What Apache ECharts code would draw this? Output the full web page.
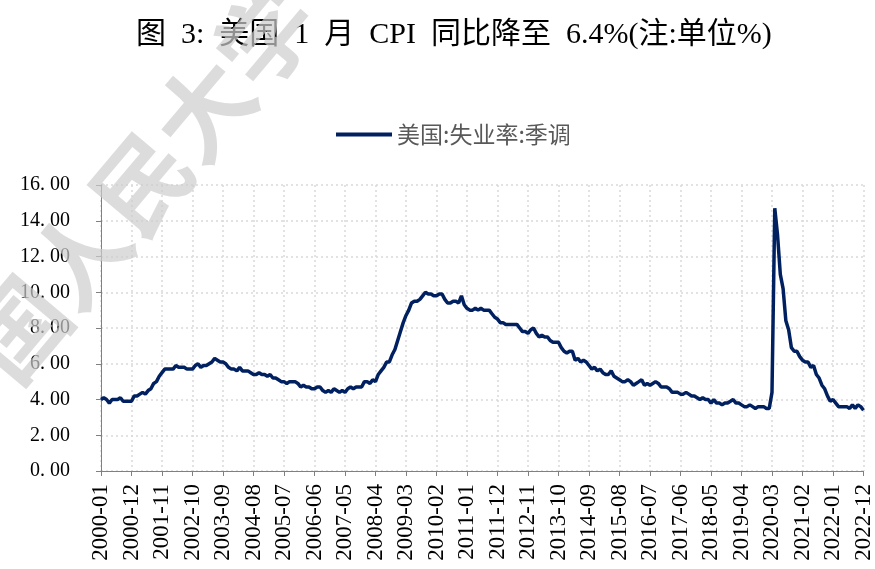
<!DOCTYPE html>
<html>
<head>
<meta charset="utf-8">
<script src="https://cdn.jsdelivr.net/npm/echarts@6/dist/echarts.min.js"></script>
<style>
  html, body { margin: 0; padding: 0; background: #fff; }
  #chart { width: 875px; height: 569px; }
</style>
</head>
<body>
<div id="chart"></div>
<script>
// 美国失业率(季调), 月度, 2000-01 ~ 2022-12
const years = [];
for (let y = 2000; y <= 2022; y++) years.push(y);

const rate2000 = [4.0, 4.1, 4.0, 3.8, 4.0, 4.0, 4.0, 4.1, 3.9, 3.9, 3.9, 3.9];
const rate2001 = [4.2, 4.2, 4.3, 4.4, 4.3, 4.5, 4.6, 4.9, 5.0, 5.3, 5.5, 5.7];
const rate2002 = [5.7, 5.7, 5.7, 5.9, 5.8, 5.8, 5.8, 5.7, 5.7, 5.7, 5.9, 6.0];
const rate2003 = [5.8, 5.9, 5.9, 6.0, 6.1, 6.3, 6.2, 6.1, 6.1, 6.0, 5.8, 5.7];
const rate2004 = [5.7, 5.6, 5.8, 5.6, 5.6, 5.6, 5.5, 5.4, 5.4, 5.5, 5.4, 5.4];
const rate2005 = [5.3, 5.4, 5.2, 5.2, 5.1, 5.0, 5.0, 4.9, 5.0, 5.0, 5.0, 4.9];
const rate2006 = [4.7, 4.8, 4.7, 4.7, 4.6, 4.6, 4.7, 4.7, 4.5, 4.4, 4.5, 4.4];
const rate2007 = [4.6, 4.5, 4.4, 4.5, 4.4, 4.6, 4.7, 4.6, 4.7, 4.7, 4.7, 5.0];
const rate2008 = [5.0, 4.9, 5.1, 5.0, 5.4, 5.6, 5.8, 6.1, 6.1, 6.5, 6.8, 7.3];
const rate2009 = [7.8, 8.3, 8.7, 9.0, 9.4, 9.5, 9.5, 9.6, 9.8, 10.0, 9.9, 9.9];
const rate2010 = [9.8, 9.8, 9.9, 9.9, 9.6, 9.4, 9.4, 9.5, 9.5, 9.4, 9.8, 9.3];
const rate2011 = [9.1, 9.0, 9.0, 9.1, 9.0, 9.1, 9.0, 9.0, 9.0, 8.8, 8.6, 8.5];
const rate2012 = [8.3, 8.3, 8.2, 8.2, 8.2, 8.2, 8.2, 8.0, 7.8, 7.8, 7.7, 7.9];
const rate2013 = [8.0, 7.7, 7.5, 7.6, 7.5, 7.5, 7.3, 7.2, 7.2, 7.2, 6.9, 6.7];
const rate2014 = [6.6, 6.7, 6.7, 6.2, 6.3, 6.1, 6.2, 6.1, 5.9, 5.7, 5.8, 5.6];
const rate2015 = [5.7, 5.5, 5.4, 5.4, 5.6, 5.3, 5.2, 5.1, 5.0, 5.0, 5.1, 5.0];
const rate2016 = [4.8, 4.9, 5.0, 5.1, 4.8, 4.9, 4.8, 4.9, 5.0, 4.9, 4.7, 4.7];
const rate2017 = [4.7, 4.6, 4.4, 4.4, 4.4, 4.3, 4.3, 4.4, 4.3, 4.2, 4.2, 4.1];
const rate2018 = [4.0, 4.1, 4.0, 4.0, 3.8, 4.0, 3.8, 3.8, 3.7, 3.8, 3.8, 3.9];
const rate2019 = [4.0, 3.8, 3.8, 3.7, 3.6, 3.6, 3.7, 3.6, 3.5, 3.6, 3.6, 3.6];
const rate2020 = [3.5, 3.5, 4.4, 14.7, 13.2, 11.0, 10.2, 8.4, 7.9, 6.9, 6.7, 6.7];
const rate2021 = [6.4, 6.2, 6.1, 6.1, 5.8, 5.9, 5.4, 5.2, 4.8, 4.6, 4.2, 3.9];
const rate2022 = [4.0, 3.8, 3.6, 3.6, 3.6, 3.6, 3.5, 3.7, 3.5, 3.7, 3.6, 3.4];

const byYear = [rate2000, rate2001, rate2002, rate2003, rate2004, rate2005, rate2006,
  rate2007, rate2008, rate2009, rate2010, rate2011, rate2012, rate2013, rate2014,
  rate2015, rate2016, rate2017, rate2018, rate2019, rate2020, rate2021, rate2022];

const months = [];
const values = [];
years.forEach((y, i) => {
  byYear[i].forEach((v, m) => {
    months.push(y + '-' + String(m + 1).padStart(2, '0'));
    values.push(v);
  });
});

// 标题里用 en space, 与原图宋体的半角空格宽度接近
const titleText = '图\u20023:\u2002美国\u20021\u2002月\u2002CPI\u2002同比降至\u20026.4%(注:单位%)';
const seriesName = '美国:失业率:季调';
const watermark = '国人民大学';

const serif = '"Liberation Serif", "Noto Sans CJK SC", serif';
const chart = echarts.init(document.getElementById('chart'));
chart.setOption({
  backgroundColor: '#fff',
  animation: false,
  title: {
    text: titleText,
    left: 131,
    top: 15,
    textStyle: { fontFamily: serif, fontSize: 30, fontWeight: 'normal', color: '#000' }
  },
  graphic: [{
    type: 'text',
    x: -13,
    y: 366,
    rotation: 0.87,
    z: 100,
    style: {
      text: watermark,
      font: 'bold 96px "Noto Sans CJK SC"',
      fill: 'rgba(205,205,205,0.7)',
      textVerticalAlign: 'middle'
    }
  }],
  legend: {
    top: 118,
    left: 331,
    icon: 'rect',
    itemWidth: 56,
    itemHeight: 4,
    itemGap: 6,
    textStyle: { fontFamily: '"Noto Sans CJK SC"', fontSize: 23, color: '#595959' },
    data: [seriesName]
  },
  grid: { left: 101, right: 9, top: 185, bottom: 98 },
  xAxis: {
    type: 'category',
    data: months,
    boundaryGap: false,
    axisLine: { lineStyle: { color: '#808080', width: 1 } },
    axisTick: { alignWithLabel: true, interval: 10, length: 5, lineStyle: { color: '#808080' } },
    axisLabel: { interval: 10, rotate: 90, margin: 13, fontFamily: serif, fontSize: 23, color: '#000' },
    splitLine: { show: true, interval: 10, lineStyle: { color: '#d9d9d9', type: [2, 3], width: 1.5 } }
  },
  yAxis: {
    type: 'value',
    min: 0,
    max: 16,
    interval: 2,
    axisLine: { show: true, lineStyle: { color: '#808080', width: 1 } },
    axisTick: { show: true, length: 5, lineStyle: { color: '#808080' } },
    axisLabel: {
      margin: 31,
      fontFamily: serif,
      fontSize: 20,
      color: '#000',
      formatter: v => v.toFixed(2).replace('.', '. ')
    },
    splitLine: { lineStyle: { color: '#d9d9d9', type: [2, 3], width: 1.5 } }
  },
  series: [{
    name: seriesName,
    type: 'line',
    data: values,
    showSymbol: false,
    symbol: 'none',
    lineStyle: { color: '#002060', width: 3.5 },
    itemStyle: { color: '#002060' }
  }]
});
</script>
</body>
</html>
